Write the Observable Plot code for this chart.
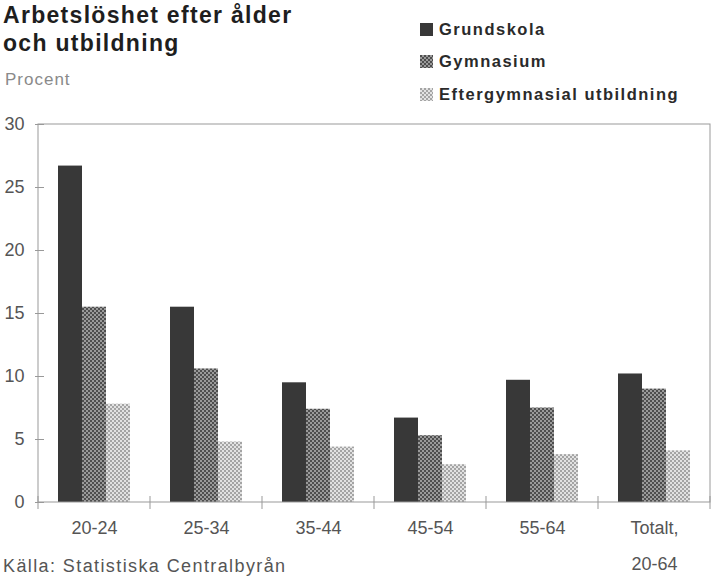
<!DOCTYPE html>
<html><head><meta charset="utf-8">
<script src="https://cdn.jsdelivr.net/npm/d3@7"></script>
<script src="https://cdn.jsdelivr.net/npm/@observablehq/plot@0.6"></script>
<style>
body{margin:0;background:#fff;font-family:"Liberation Sans",Arial,sans-serif;}
#wrap{position:relative;width:715px;height:578px;overflow:hidden;background:#fff}
#chart{position:absolute;left:0;top:100px;z-index:1}
#title{position:absolute;left:3px;top:1px;font-size:23px;line-height:28px;font-weight:bold;letter-spacing:1.3px;color:#1e1e1e;z-index:2}
#sub{position:absolute;left:5px;top:70px;font-size:17px;line-height:20px;letter-spacing:1px;color:#8a8a8a;z-index:2}
#legend{position:absolute;left:420px;top:13px;z-index:2}
.row{display:flex;align-items:center;height:32.5px}
.row svg{width:13px;height:13px;margin-right:6px;flex:none}
.row span{font-size:16.5px;font-weight:bold;letter-spacing:1.5px;color:#2a2a2a;white-space:nowrap}
#source{position:absolute;left:3px;top:556px;font-size:18px;line-height:20px;letter-spacing:1.4px;color:#555;z-index:2}
</style></head><body>
<div id="wrap">
 <div id="title">Arbetslöshet efter ålder<br>och utbildning</div>
 <div id="sub">Procent</div>
 <div id="chart"></div>
 <div id="legend"></div>
 <div id="source">Källa: Statistiska Centralbyrån</div>
</div>
<script>
const groups = ["20-24","25-34","35-44","45-54","55-64","Totalt"];
const groupLabels = ["20-24","25-34","35-44","45-54","55-64","Totalt,\n20-64"];
const series = ["Grundskola","Gymnasium","Eftergymnasial utbildning"];
const grundskola = [26.7,15.5,9.5,6.7,9.7,10.2];
const gymnasium = [15.5,10.6,7.4,5.3,7.5,9.0];
const eftergymnasial = [7.8,4.8,4.4,3.0,3.8,4.1];
const yTicks = [0,5,10,15,20,25,30];

const seriesFills = ["#383838","url(#p-gym)","url(#p-eft)"];

const data = groups.flatMap((g,i)=>[
  {group:g, series:series[0], value:grundskola[i]},
  {group:g, series:series[1], value:gymnasium[i]},
  {group:g, series:series[2], value:eftergymnasial[i]}
]);
const labelOf = new Map(groups.map((g,i)=>[g,groupLabels[i]]));

// legend with pattern defs
const legend = d3.select("#legend");
series.forEach((s,i)=>{
  const row = legend.append("div").attr("class","row");
  const sw = row.append("svg").attr("viewBox","0 0 13 13");
  if(i===0){
    const defs = sw.append("defs");
    const g = defs.append("pattern").attr("id","p-gym").attr("patternUnits","userSpaceOnUse").attr("width",4).attr("height",4);
    g.append("rect").attr("width",4).attr("height",4).attr("fill","#9a9a9a");
    g.append("rect").attr("width",2).attr("height",2).attr("fill","#4e4e4e");
    g.append("rect").attr("x",2).attr("y",2).attr("width",2).attr("height",2).attr("fill","#4e4e4e");
    const e = defs.append("pattern").attr("id","p-eft").attr("patternUnits","userSpaceOnUse").attr("width",4).attr("height",4);
    e.append("rect").attr("width",4).attr("height",4).attr("fill","#e2e2e2");
    e.append("rect").attr("width",2).attr("height",2).attr("fill","#a4a4a4");
    e.append("rect").attr("x",2).attr("y",2).attr("width",2).attr("height",2).attr("fill","#a4a4a4");
  }
  sw.append("rect").attr("width",13).attr("height",13).attr("fill",seriesFills[i]);
  row.append("span").text(s);
});

const plot = Plot.plot({
  width: 715,
  height: 478,
  marginTop: 24,
  marginBottom: 76,
  marginLeft: 36,
  marginRight: 3,
  style: {fontFamily: '"Liberation Sans",Arial,sans-serif', fontSize: "18px", color: "#555"},
  fx: {domain: groups, padding: 0},
  x: {domain: series, axis: null, paddingInner: 0, paddingOuter: 0.75},
  y: {domain: [0, 30], axis: null},
  color: {domain: series, range: seriesFills},
  marks: [
    Plot.barY(data, {fx: "group", x: "series", y: "value", fill: "series"}),
    Plot.axisY({ticks: yTicks, tickSize: 9, dx: 6, tickPadding: 11, label: null, stroke: "#999", fill: "#555", fontSize: 18}),
    Plot.axisFx({anchor: "bottom", tickSize: 0, tickPadding: 6, label: null, tickFormat: d => labelOf.get(d), lineHeight: 2, fill: "#555", fontSize: 18})
  ]
});
document.getElementById("chart").appendChild(plot);

// frame and group boundary ticks through the plot's scales
const fx = plot.scale("fx"), y = plot.scale("y");
const svg = d3.select(plot);
const x0 = fx.apply(groups[0]);
const x1 = fx.apply(groups[groups.length-1]) + fx.bandwidth;
const yb = y.apply(0), yt = y.apply(30);
const fr = svg.append("g").attr("stroke","#999").attr("fill","none").attr("stroke-width",1);
fr.append("rect").attr("x",x0).attr("y",yt).attr("width",x1-x0).attr("height",yb-yt);
const bounds = groups.map(g=>fx.apply(g)).concat([x1]);
bounds.forEach(b=>{
  fr.append("line").attr("x1",b).attr("x2",b).attr("y1",yb-6).attr("y2",yb+7);
});
</script>
</body></html>
